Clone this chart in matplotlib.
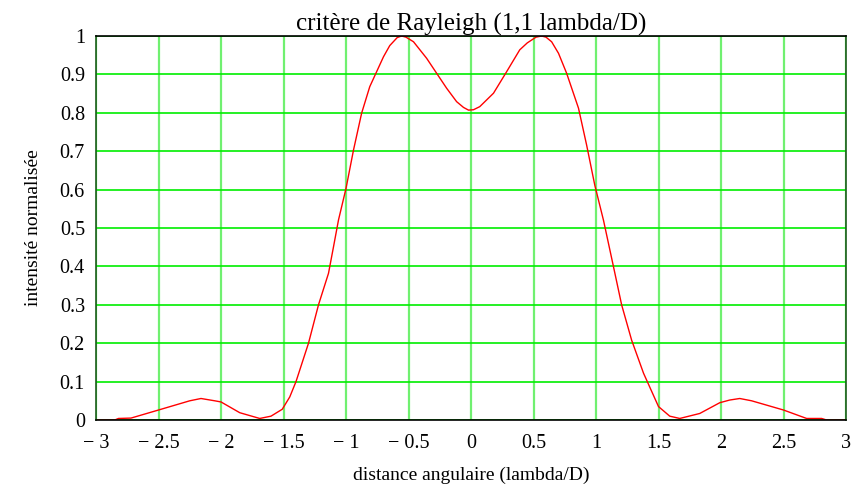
import numpy as np
import matplotlib.pyplot as plt

# points (x en lambda/D, intensité normalisée)
x_vals = [-3, -2.85, -2.82, -2.72, -2.5, -2.25, -2.16, -2.05, -2.0, -1.85,
          -1.69, -1.6, -1.51, -1.45, -1.4, -1.3, -1.22, -1.14, -1.1, -1.06,
          -1.0, -0.94, -0.875, -0.81, -0.755, -0.70, -0.65, -0.59, -0.555, -0.52,
          -0.46, -0.355, -0.275, -0.195, -0.115, -0.06, -0.02, 0.02, 0.07, 0.18,
          0.285, 0.39, 0.45, 0.52, 0.565, 0.60, 0.645, 0.70, 0.765, 0.86,
          0.925, 0.99, 1.06, 1.14, 1.205, 1.285, 1.38, 1.5, 1.59, 1.67,
          1.83, 1.99, 2.07, 2.15, 2.245, 2.5, 2.685, 2.805, 2.845, 3.0]
y_vals = [0, 0, 0.004, 0.005, 0.026, 0.05, 0.056, 0.05, 0.047, 0.019,
          0.004, 0.01, 0.028, 0.06, 0.1, 0.2, 0.3, 0.382, 0.451, 0.521,
          0.603, 0.703, 0.799, 0.868, 0.907, 0.946, 0.975, 0.996, 1.0, 0.997,
          0.985, 0.942, 0.903, 0.864, 0.829, 0.814, 0.807, 0.808, 0.816, 0.851,
          0.907, 0.964, 0.982, 0.997, 1.0, 0.997, 0.985, 0.955, 0.903, 0.812,
          0.716, 0.612, 0.52, 0.399, 0.3, 0.208, 0.122, 0.035, 0.01, 0.004,
          0.017, 0.045, 0.052, 0.056, 0.05, 0.026, 0.004, 0.004, 0, 0]

x_ticks = [-3, -2.5, -2, -1.5, -1, -0.5, 0, 0.5, 1, 1.5, 2, 2.5, 3]
x_ticklabels = ['\u2212 3', '\u2212 2.5', '\u2212 2', '\u2212 1.5', '\u2212 1', '\u2212 0.5',
                '0', '0.5', '1', '1.5', '2', '2.5', '3']
y_ticks = [0, 0.1, 0.2, 0.3, 0.4, 0.5, 0.6, 0.7, 0.8, 0.9, 1]
y_ticklabels = ['0', '0.1', '0.2', '0.3', '0.4', '0.5', '0.6', '0.7', '0.8', '0.9', '1']

plt.rcParams['font.family'] = ['Liberation Serif', 'DejaVu Serif']

fig = plt.figure(figsize=(8.58, 4.9), dpi=100)
ax = fig.add_axes([96 / 858, 1 - 420 / 490, 750 / 858, 384 / 490])

# grille verte
for xv in x_ticks:
    ax.axvline(xv, color='#70f070', lw=1.6, zorder=1)
for yv in y_ticks:
    ax.axhline(yv, color='#00ee00', lw=1.2, zorder=1)

ax.plot(x_vals, y_vals, color='red', lw=1.0, zorder=3)

ax.set_xlim(-3, 3)
ax.set_ylim(0, 1)
ax.set_xticks(x_ticks)
ax.set_xticklabels(x_ticklabels)
ax.set_yticks(y_ticks)
ax.set_yticklabels(y_ticklabels)
ax.tick_params(length=0, labelsize=14.5, pad=8)
ax.tick_params(axis='x', pad=10)

for side in ['top', 'bottom']:
    ax.spines[side].set_color('black')
for side in ['left', 'right']:
    ax.spines[side].set_color('#1a5c1a')
for sp in ax.spines.values():
    sp.set_linewidth(1.2)
    sp.set_zorder(4)

ax.set_title('critère de Rayleigh (1,1 lambda/D)', fontsize=18, pad=3)
ax.set_xlabel('distance angulaire (lambda/D)', fontsize=14, labelpad=10)
ax.set_ylabel('intensité normalisée', fontsize=14, labelpad=13)

fig.savefig('out.png', dpi=100)
